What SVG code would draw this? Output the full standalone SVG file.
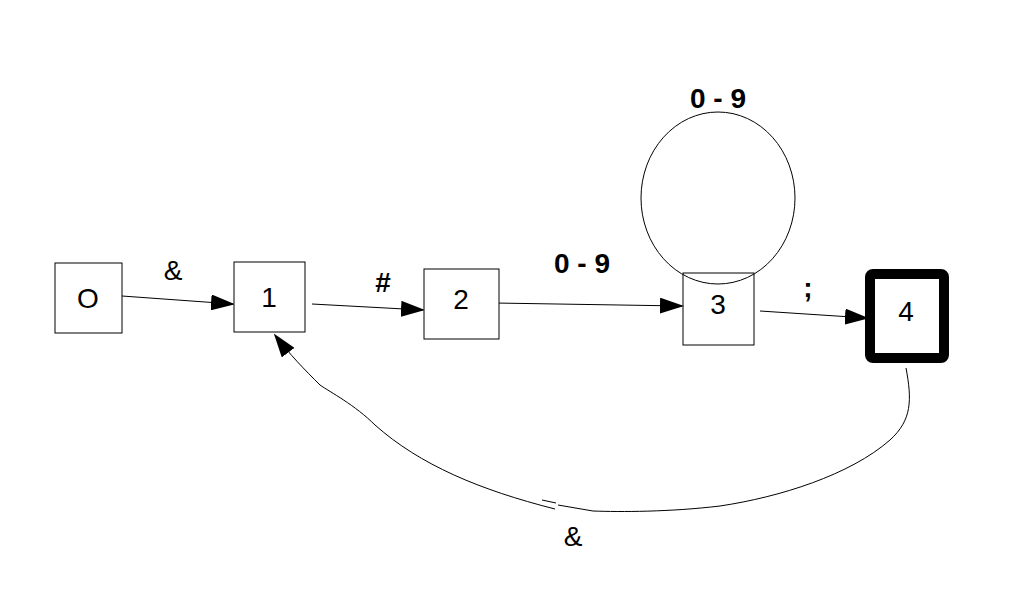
<svg xmlns="http://www.w3.org/2000/svg" width="1011" height="591" viewBox="0 0 1011 591">
<style>
.n{fill:#fff;stroke:#000;stroke-width:1}
.t{font-family:"Liberation Sans",Arial,sans-serif;font-size:28px;text-anchor:middle}
.l{font-family:"Liberation Sans",Arial,sans-serif;font-size:28px;font-weight:bold;text-anchor:middle}
.c{fill:none;stroke:#000;stroke-width:1}
</style>
<defs><marker id="a" markerWidth="24" markerHeight="16" refX="22" refY="8" orient="auto" markerUnits="userSpaceOnUse"><path d="M0,0 L24,8 L0,16 z"/></marker></defs>
<rect width="1011" height="591" fill="#fff"/>
<g id="connectors">
<path class="c" d="M122,296 L233,304" marker-end="url(#a)"/>
<path class="c" d="M312,304 L423,310" marker-end="url(#a)"/>
<path class="c" d="M494,303 L682,306" marker-end="url(#a)"/>
<path class="c" d="M760,311 L867,318" marker-end="url(#a)"/>
<ellipse class="c" cx="718" cy="198" rx="77" ry="86"/>
<path class="c" d="M906,368 C912,400 912,420 890,440 C850,475 780,497 720,506 C670,512 620,512 593,511 L558,505"/>
<path class="c" d="M542,500 L556,503"/>
<path class="c" d="M555,509 C480,490 420,465 375,425 C355,405 330,392 320,385 C305,370 290,355 275,335" marker-end="url(#a)"/>
<text class="l" x="173" y="280" style="font-weight:normal">&amp;</text>
<text class="l" x="383" y="292">#</text>
<text class="l" x="582" y="273">0 - 9</text>
<text class="l" x="718" y="108">0 - 9</text>
<text class="l" x="808" y="297">;</text>
<text class="t" x="573" y="546">&amp;</text>
</g>
<g id="n0"><rect class="n" x="55" y="263" width="67" height="70"/><text class="t" x="88" y="308">O</text></g>
<g id="n1"><rect class="n" x="234" y="262" width="71" height="70"/><text class="t" x="269" y="307">1</text></g>
<g id="n2"><rect class="n" x="424" y="269" width="75" height="70"/><text class="t" x="461" y="309">2</text></g>
<g id="n3"><rect class="n" x="683" y="273" width="71" height="72" fill-opacity="0"/><text class="t" x="718" y="314">3</text></g>
<g id="n4"><rect x="870" y="274" width="74" height="84" rx="3" fill="#fff" stroke="#000" stroke-width="10"/><text class="t" x="906" y="321">4</text></g>
</svg>
